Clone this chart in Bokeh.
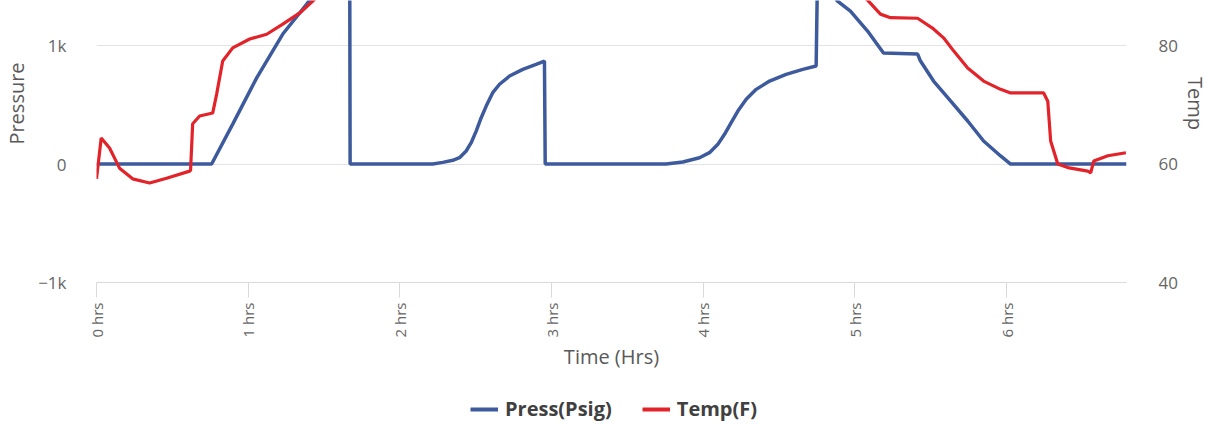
import math
from bokeh.plotting import figure
from bokeh.models import Range1d, LinearAxis, FixedTicker, Legend, LegendItem, Label
from bokeh.layouts import row, column
from bokeh.embed import file_html
from bokeh.resources import INLINE

# ---- data ----
press_hrs = [0.0, 0.759, 0.898, 1.056, 1.228, 1.386, 1.53, 1.669, 1.672,
             2.217, 2.283, 2.349, 2.393, 2.437, 2.470, 2.503, 2.536, 2.569, 2.612, 2.657,
             2.723, 2.810, 2.898, 2.953, 2.958,
             3.755, 3.865, 3.975, 4.041, 4.096, 4.140, 4.184, 4.228, 4.283, 4.349,
             4.437, 4.546, 4.656, 4.744, 4.753,
             4.885, 4.970, 5.083, 5.188, 5.413, 5.432, 5.518, 5.630, 5.743, 5.848,
             5.960, 6.026, 6.79]
press_psig = [0, 0, 337, 727, 1097, 1350, 1600, 1850, 0,
              0, 14, 31, 53, 110, 180, 278, 391, 489, 602, 673,
              743, 799, 841, 869, 0,
              0, 17, 53, 96, 166, 251, 349, 447, 546, 630,
              700, 757, 799, 827, 1600,
              1375, 1291, 1122, 937, 928, 869, 700, 532, 363, 194,
              68, 0, 0]

temp_hrs = [0.0, 0.031, 0.086, 0.152, 0.238, 0.350, 0.462, 0.614, 0.620, 0.634,
            0.680, 0.766, 0.792, 0.832, 0.898, 1.010, 1.122, 1.228, 1.340, 1.426,
            1.7, 2.5, 3.5, 4.5, 4.9, 5.089, 5.168, 5.234, 5.413, 5.518,
            5.584, 5.650, 5.743, 5.848, 5.960, 6.026, 6.244, 6.271, 6.290, 6.337,
            6.403, 6.535, 6.554, 6.574, 6.667, 6.786]
temp_f = [57.5, 64.4, 62.7, 59.3, 57.5, 56.8, 57.6, 58.8, 58.9, 66.8,
          68.1, 68.6, 71.8, 77.4, 79.6, 81.1, 81.9, 83.6, 85.5, 87.5,
          95, 100, 102, 100, 92, 87.5, 85.3, 84.7, 84.6, 82.8,
          81.3, 79.1, 76.2, 74.0, 72.6, 72.0, 72.0, 70.6, 63.9, 60.0,
          59.4, 58.8, 58.5, 60.5, 61.4, 61.9]

x_ticks = [0, 1, 2, 3, 4, 5, 6]
x_tick_labels = ["0 hrs", "1 hrs", "2 hrs", "3 hrs", "4 hrs", "5 hrs", "6 hrs"]
press_ticks = [-1000, 0, 1000]
press_tick_labels = ["\u22121k", "0", "1k"]
temp_ticks = [40, 60, 80]
temp_tick_labels = ["40", "60", "80"]
series_names = ["Press(Psig)", "Temp(F)"]

FONT = "Open Sans"
TXT = "#666666"
TITLE = "#595959"
GRID = "#e3e3e3"
BLUE = "#3d5a9c"
RED = "#e3232a"

TOP_H = 374
FRAME_BOTTOM = 282
FRAME_W = 1030
BORDER_L, BORDER_R = 66, 55
LEFT_W = 30
MAIN_W = BORDER_L + FRAME_W + BORDER_R
RIGHT_W = 1209 - LEFT_W - MAIN_W

p = figure(width=MAIN_W, height=TOP_H, output_backend="svg", toolbar_location=None,
           x_range=Range1d(0, 6.79), y_range=Range1d(-1000, 1380),
           min_border_left=BORDER_L, min_border_right=BORDER_R,
           min_border_top=0, min_border_bottom=TOP_H - FRAME_BOTTOM)
p.outline_line_color = None
p.xgrid.grid_line_color = None
p.ygrid.grid_line_color = GRID
p.ygrid.ticker = FixedTicker(ticks=press_ticks)
p.extra_y_ranges = {"temp": Range1d(40, 40 + 2380 / 1000 * 20)}

# x axis
xa = p.xaxis[0]
xa.ticker = FixedTicker(ticks=x_ticks)
xa.major_label_overrides = {t: s for t, s in zip(x_ticks, x_tick_labels)}
xa.major_label_orientation = math.pi / 2
xa.axis_line_color = "#d9d9d9"
xa.major_tick_line_color = "#d9d9d9"
xa.major_tick_out = 15
xa.major_tick_in = 0
xa.minor_tick_line_color = None
xa.major_label_standoff = 5
xa.major_label_text_font = FONT
xa.major_label_text_font_size = "15px"
xa.major_label_text_color = TXT
xa.axis_label = "Time (Hrs)"
xa.axis_label_text_font = FONT
xa.axis_label_text_font_size = "20px"
xa.axis_label_text_font_style = "normal"
xa.axis_label_text_color = TITLE
xa.axis_label_standoff = 3

# left axis
ya = p.yaxis[0]
ya.ticker = FixedTicker(ticks=press_ticks)
ya.major_label_overrides = {t: s for t, s in zip(press_ticks, press_tick_labels)}
ya.axis_line_color = None
ya.major_tick_line_color = None
ya.minor_tick_line_color = None
ya.major_label_standoff = 24
ya.major_label_text_font = FONT
ya.major_label_text_font_size = "17px"
ya.major_label_text_color = TXT

# right axis
ra = LinearAxis(y_range_name="temp", ticker=FixedTicker(ticks=temp_ticks))
ra.major_label_overrides = {t: s for t, s in zip(temp_ticks, temp_tick_labels)}
ra.axis_line_color = None
ra.major_tick_line_color = None
ra.minor_tick_line_color = None
ra.major_label_standoff = 26
ra.major_label_text_font = FONT
ra.major_label_text_font_size = "17px"
ra.major_label_text_color = TXT
p.add_layout(ra, "right")

r1 = p.line(press_hrs, press_psig, line_color=BLUE, line_width=3.5)
r2 = p.line(temp_hrs, temp_f, line_color=RED, line_width=3.2, y_range_name="temp")


def text_panel(w, h, txt, x, y, angle):
    f = figure(width=w, height=h, output_backend="svg", toolbar_location=None,
               x_range=Range1d(0, 1), y_range=Range1d(0, 1),
               x_axis_location=None, y_axis_location=None, min_border=0)
    f.outline_line_color = None
    f.grid.visible = False
    f.add_layout(Label(x=x, y=y, x_units="screen", y_units="screen", text=txt,
                       angle=angle, text_align="center", text_baseline="middle",
                       text_font=FONT, text_font_size="20px", text_color=TITLE))
    return f


# the frames in the row are aligned with the main frame (top 0, bottom 282)
left_fig = text_panel(LEFT_W, TOP_H, "Pressure", 16, FRAME_BOTTOM - 103, math.pi / 2)
right_fig = text_panel(RIGHT_W, TOP_H, "Temp", RIGHT_W / 2, FRAME_BOTTOM - 103, -math.pi / 2)

# legend strip (renderers hold the real series but lie outside this strip's ranges)
LEG_H = 423 - TOP_H
lf = figure(width=1209, height=LEG_H, output_backend="svg", toolbar_location=None,
            x_range=Range1d(100, 101), y_range=Range1d(-1e6, -1e6 + 1),
            x_axis_location=None, y_axis_location=None, min_border=0)
lf.outline_line_color = None
lf.grid.visible = False
d1 = lf.line(press_hrs, press_psig, line_color=BLUE, line_width=4)
d2 = lf.line(temp_hrs, temp_f, line_color=RED, line_width=4)
legend = Legend(items=[LegendItem(label=series_names[0], renderers=[d1]),
                       LegendItem(label=series_names[1], renderers=[d2])],
                orientation="horizontal", location=(470, 1),
                glyph_width=28, glyph_height=20, label_standoff=7, spacing=30,
                padding=0, margin=0, border_line_color=None, background_fill_alpha=0,
                label_text_font=FONT, label_text_font_size="20px", label_text_font_style="bold",
                label_text_color="#404040", label_height=20)
lf.add_layout(legend, "center")

layout = column(row(left_fig, p, right_fig), lf)
open("out.html", "w").write(file_html(layout, INLINE))
